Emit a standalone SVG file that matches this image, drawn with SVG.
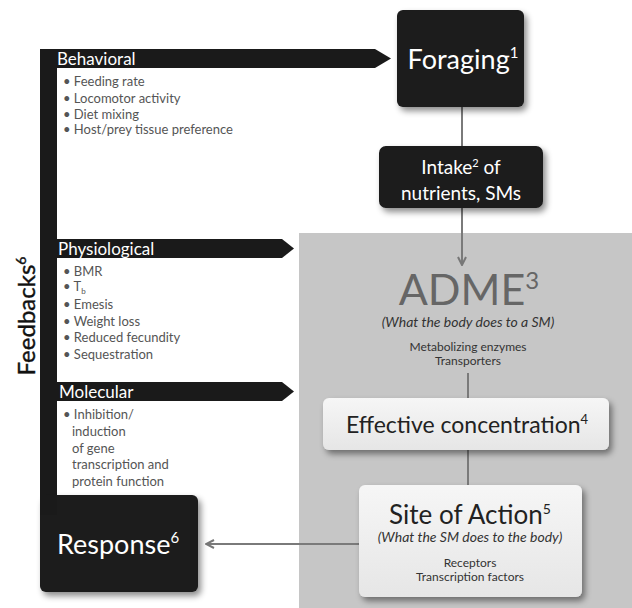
<svg xmlns="http://www.w3.org/2000/svg" width="632" height="608" viewBox="0 0 632 608">
<defs>
<filter id="sh" x="-20%" y="-20%" width="150%" height="150%">
<feDropShadow dx="3" dy="4" stdDeviation="3" flood-color="#000" flood-opacity="0.45"/>
</filter>
<linearGradient id="lg" x1="0" y1="0" x2="0" y2="1">
<stop offset="0" stop-color="#f6f6f6"/>
<stop offset="1" stop-color="#e6e6e6"/>
</linearGradient>
<marker id="chev" viewBox="0 0 10 10" refX="9" refY="5" markerWidth="5" markerHeight="5" orient="auto" markerUnits="strokeWidth">
<polyline points="1,1 9,5 1,9" fill="none" stroke="#777" stroke-width="2"/>
</marker>
</defs>
<style>
text{font-family:Lato,"Open Sans","Liberation Sans",sans-serif}
.dark{fill:#1a1a1a}
.wh{fill:#fff}
.lab{fill:#fff;font-size:17px}
.bul{fill:#555;font-size:13px}
.con{stroke:#7a7a7a;stroke-width:2;fill:none}
.big{font-size:27px}
.it{font-style:italic;font-size:14px;fill:#333}
.sm{font-size:12px;fill:#333}
</style>
<rect x="0" y="0" width="632" height="608" fill="#fff"/>
<rect id="adme-region" x="299" y="233" width="333" height="375" fill="#c6c6c6"/>

<g id="feedbacks">
<rect class="dark" x="40" y="49" width="17" height="500"/>
<text transform="translate(35,316) rotate(-90)" text-anchor="middle" font-size="24" fill="#111" stroke="#111" stroke-width="0.4">Feedbacks<tspan font-size="14" dy="-9">6</tspan></text>
</g>

<g id="behavioral">
<polygon class="dark" points="40,49 375,49 391,58.5 375,68 40,68"/>
<text class="lab" x="57" y="65">Behavioral</text>
<text class="bul" x="63" y="86">• Feeding rate</text>
<text class="bul" x="63" y="103">• Locomotor  activity</text>
<text class="bul" x="63" y="119">• Diet mixing</text>
<text class="bul" x="63" y="134">• Host/prey tissue preference</text>
</g>

<g id="physiological">
<polygon class="dark" points="40,239 282,239 294,248.5 282,258 40,258"/>
<text class="lab" x="58" y="255">Physiological</text>
<text class="bul" x="63" y="276">• BMR</text>
<text class="bul" x="63" y="291">• T<tspan font-size="8" dy="3">b</tspan></text>
<text class="bul" x="63" y="309">• Emesis</text>
<text class="bul" x="63" y="326">• Weight loss</text>
<text class="bul" x="63" y="342">• Reduced fecundity</text>
<text class="bul" x="63" y="359">• Sequestration</text>
</g>

<g id="molecular">
<polygon class="dark" points="40,382 282,382 294,391.5 282,401 40,401"/>
<text class="lab" x="59" y="398">Molecular</text>
<text class="bul" x="63" y="419">• Inhibition/</text>
<text class="bul" x="72" y="436">induction</text>
<text class="bul" x="72" y="453">of gene</text>
<text class="bul" x="72" y="469">transcription and</text>
<text class="bul" x="72" y="486">protein function</text>
</g>

<g id="connectors">
<line class="con" x1="462" y1="107" x2="462" y2="146"/>
<line class="con" x1="462" y1="208" x2="462" y2="265" marker-end="url(#chev)"/>
<line class="con" x1="468" y1="373" x2="468" y2="398"/>
<line class="con" x1="468" y1="450" x2="468" y2="485"/>
<line class="con" x1="359" y1="544" x2="206" y2="544" marker-end="url(#chev)"/>
</g>

<g id="foraging">
<rect class="dark" x="397" y="10" width="127" height="97" rx="6" filter="url(#sh)"/>
<text class="wh big" x="463" y="69" text-anchor="middle">Foraging<tspan font-size="15" dy="-11">1</tspan></text>
</g>

<g id="intake">
<rect class="dark" x="379" y="146" width="164" height="62" rx="7" filter="url(#sh)"/>
<text class="wh" x="461" y="174" font-size="19" text-anchor="middle">Intake<tspan font-size="11" dy="-7">2</tspan><tspan dy="7"> of</tspan></text>
<text class="wh" x="461" y="200" font-size="19" text-anchor="middle">nutrients, SMs</text>
</g>

<g id="adme">
<text x="469" y="305" font-size="43" fill="#666" text-anchor="middle">ADME<tspan font-size="24" dy="-16">3</tspan></text>
<text class="it" x="468" y="327" text-anchor="middle">(What the body does to a SM)</text>
<text class="sm" x="468" y="351" text-anchor="middle">Metabolizing enzymes</text>
<text class="sm" x="468" y="365" text-anchor="middle">Transporters</text>
</g>

<g id="effective">
<rect x="323" y="398" width="286" height="52" rx="6" fill="url(#lg)" filter="url(#sh)"/>
<text x="467" y="433" font-size="23" fill="#222" text-anchor="middle">Effective concentration<tspan font-size="13" dy="-9">4</tspan></text>
</g>

<g id="site">
<rect x="359" y="485" width="223" height="112" rx="6" fill="url(#lg)" filter="url(#sh)"/>
<text x="470" y="524" font-size="26" fill="#222" text-anchor="middle">Site of Action<tspan font-size="14" dy="-10">5</tspan></text>
<text class="it" x="470" y="542" text-anchor="middle">(What the SM does to the body)</text>
<text class="sm" x="470" y="567" text-anchor="middle">Receptors</text>
<text class="sm" x="470" y="581" text-anchor="middle">Transcription factors</text>
</g>

<g id="response">
<rect class="dark" x="40" y="495" width="158" height="97" rx="6" filter="url(#sh)"/>
<rect class="dark" x="40" y="495" width="17" height="20"/>
<text class="wh big" x="57" y="554">Response<tspan font-size="15" dy="-11">6</tspan></text>
</g>
</svg>
